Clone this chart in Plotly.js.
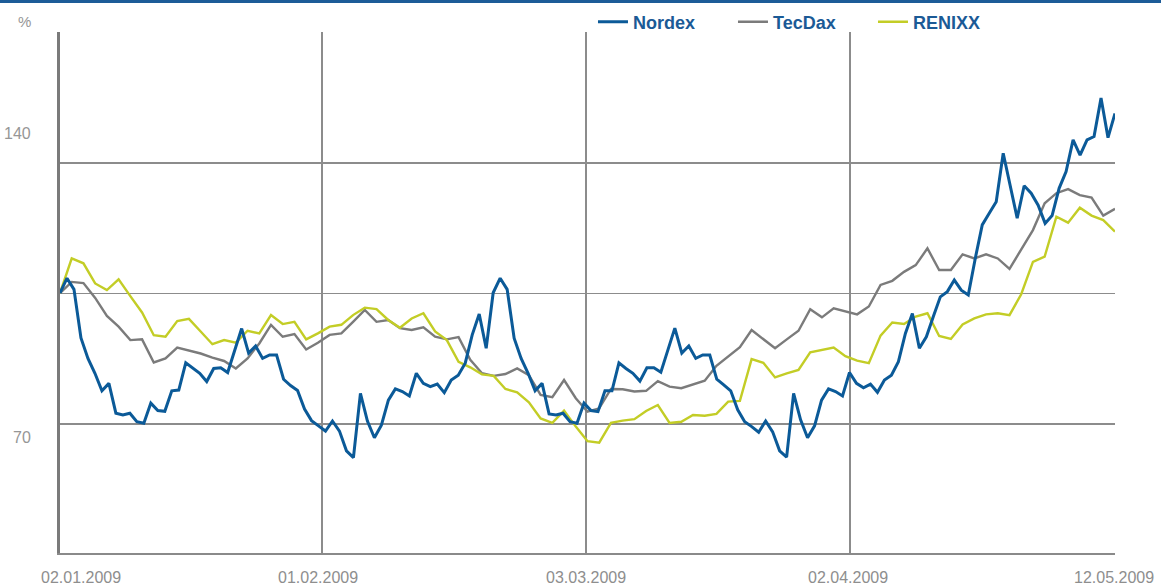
<!DOCTYPE html>
<html><head><meta charset="utf-8">
<script src="https://cdn.plot.ly/plotly-3.0.1.min.js"></script>
<style>html,body{margin:0;padding:0;background:#fff}#chart{width:1161px;height:585px}</style>
</head><body><div id="chart"></div>
<script>
// Nordex: finer sampling (152 points), TecDax / RENIXX: 91 points each
const nordex = [105.1,109.1,106.1,93.1,87.6,83.6,78.9,80.9,72.9,72.4,
 72.9,70.6,70.2,75.6,73.6,73.4,78.9,79.1,86.4,84.9,
 83.6,81.4,84.9,85.1,83.8,89.7,95.6,89.0,90.9,87.6,
 88.5,88.5,82.0,80.3,79.0,74.0,70.9,69.5,68.1,70.8,
 68.1,62.8,61.0,78.2,70.8,66.3,69.7,76.4,79.4,78.7,
 77.5,83.6,80.9,80.0,80.7,78.4,81.8,83.1,86.3,93.9,
 99.5,90.3,105.2,109.1,106.1,93.0,87.6,83.6,78.9,80.9,
 72.7,72.4,72.9,70.6,70.2,75.6,73.6,73.3,78.9,78.9,
 86.4,84.9,83.6,81.5,85.1,85.1,83.9,89.8,95.7,89.0,
 90.9,87.6,88.5,88.5,82.0,80.5,78.9,73.8,70.6,69.3,
 67.8,70.8,67.9,62.8,61.1,78.2,71.1,66.3,69.5,76.4,
 79.4,78.7,77.5,83.8,80.9,79.7,80.7,78.5,81.8,83.1,
 86.7,94.3,99.6,90.3,93.4,98.8,104.1,105.5,108.6,105.9,
 104.6,114.4,123.4,126.5,129.6,142.6,133.6,125.2,133.9,131.9,
 128.7,123.8,125.9,133.2,137.7,146.2,142.1,146.2,147.1,157.4,
 146.8,153.3];

const tecdax = [105.1,108.1,107.8,103.8,99.0,96.1,92.5,92.7,86.5,87.6,
 90.5,89.7,88.9,87.8,86.9,84.9,87.6,91.6,96.6,93.4,
 94.1,90.0,91.8,93.9,94.3,97.4,100.6,97.4,97.9,95.7,
 95.2,95.9,93.4,92.7,93.3,87.2,83.6,82.9,83.4,84.9,
 83.1,77.8,77.2,81.8,76.9,73.3,74.2,79.4,79.3,78.7,
 78.9,81.5,80.0,79.6,80.7,81.6,85.6,88.0,90.6,95.2,
 92.7,90.3,92.7,95.0,100.8,98.6,101.0,100.3,99.4,101.5,
 107.3,108.4,110.8,112.6,117.1,111.3,111.3,115.5,114.4,115.5,
 114.4,111.6,116.7,122.0,129.2,131.9,133.0,131.4,130.7,125.9,
 127.7];

const renixx = [105.1,114.4,113.1,107.7,105.9,108.8,104.3,99.9,93.8,93.4,
 97.6,98.2,94.8,91.4,92.5,91.8,95.0,94.3,99.2,96.8,
 97.4,92.7,94.3,96.1,96.6,99.2,101.2,100.8,97.9,95.8,
 98.3,99.7,94.8,92.5,86.7,85.2,83.3,82.9,79.4,78.5,
 75.8,71.5,70.3,73.6,69.3,65.4,65.0,70.3,70.9,71.3,
 73.5,75.1,70.3,70.6,72.4,72.2,72.7,76.0,76.2,87.4,
 86.4,82.5,83.6,84.5,89.2,89.8,90.5,88.2,87.0,86.3,
 93.7,97.2,96.8,98.8,99.7,93.6,92.8,96.7,98.3,99.4,
 99.7,99.2,104.8,113.5,114.9,125.6,124.0,128.0,125.9,124.7,
 121.6];

const seriesNames = ['Nordex', 'TecDax', 'RENIXX'];
const dateLabels = ['02.01.2009', '01.02.2009', '03.03.2009', '02.04.2009', '12.05.2009'];
const datePositions = [0, 22.35, 44.87, 67.4, 90];
const gridValues = [70, 105, 140];
const yLabelTexts = ['%', '140', '70'];

const colors = {Nordex: '#0b5a98', TecDax: '#7b7b7b', RENIXX: '#c3cd26'};
const labelShift = [21, -4, 0, -2, -1];

const traces = [
  {y: tecdax, name: seriesNames[1], type: 'scatter', mode: 'lines', xaxis: 'x', yaxis: 'y',
   line: {color: colors.TecDax, width: 2.4}, legendrank: 2},
  {y: renixx, name: seriesNames[2], type: 'scatter', mode: 'lines', xaxis: 'x', yaxis: 'y',
   line: {color: colors.RENIXX, width: 2.4}, legendrank: 3},
  {y: nordex, name: seriesNames[0], type: 'scatter', mode: 'lines', xaxis: 'x2', yaxis: 'y',
   line: {color: colors.Nordex, width: 3}, legendrank: 1}
];

const annotations = dateLabels.map((t, i) => ({
  text: t, xref: 'x', yref: 'paper', x: datePositions[i], y: 0,
  xanchor: 'center', yanchor: 'middle', yshift: -24, xshift: labelShift[i],
  showarrow: false, font: {family: 'Liberation Sans, Arial, sans-serif', size: 16, color: '#8e8e8e'}
}));
const yLabelPos = [1.0211, 0.8061, 0.2217];
yLabelTexts.forEach((t, i) => annotations.push({
  text: t, xref: 'paper', yref: 'paper', x: -0.026, y: yLabelPos[i],
  xanchor: 'right', yanchor: 'middle', showarrow: false,
  font: {family: 'Liberation Sans, Arial, sans-serif', size: i === 0 ? 15 : 16, color: '#969696'}
}));

const layout = {
  width: 1161, height: 585,
  margin: {l: 60, r: 46, t: 32, b: 32, autoexpand: false},
  paper_bgcolor: '#ffffff', plot_bgcolor: '#ffffff',
  showlegend: true,
  legend: {orientation: 'h', x: 0.5052, xanchor: 'left', y: 1.0192, yanchor: 'middle',
    entrywidth: 95, entrywidthmode: 'pixels', bgcolor: 'rgba(0,0,0,0)', borderwidth: 0,
    font: {family: 'Liberation Sans, Arial, sans-serif', size: 18, weight: 'bold', color: '#1b5a96'}},
  xaxis: {range: [0, 90], tickmode: 'array', tickvals: datePositions.slice(1, 4),
    showticklabels: false, ticks: '', showgrid: true, gridcolor: '#8c8c8c', gridwidth: 1.5,
    zeroline: false, showline: true, linecolor: '#8a8a8a', linewidth: 2},
  xaxis2: {range: [0, nordex.length - 1], overlaying: 'x', anchor: 'y', visible: false},
  yaxis: {range: [35.4, 175.13], tickmode: 'array', tickvals: gridValues,
    showticklabels: false, ticks: '', showgrid: true, gridcolor: '#8c8c8c', gridwidth: 1.5,
    zeroline: false, showline: true, linecolor: '#7a7a7a', linewidth: 3},
  shapes: [{type: 'line', xref: 'paper', yref: 'paper', x0: -0.0569, x1: 1.0436,
    y0: 1.0585, y1: 1.0585, line: {color: '#1d5c98', width: 3}}],
  annotations: annotations,
  hovermode: false
};

Plotly.newPlot('chart', traces, layout, {displayModeBar: false, staticPlot: true});
</script>
</body></html>
